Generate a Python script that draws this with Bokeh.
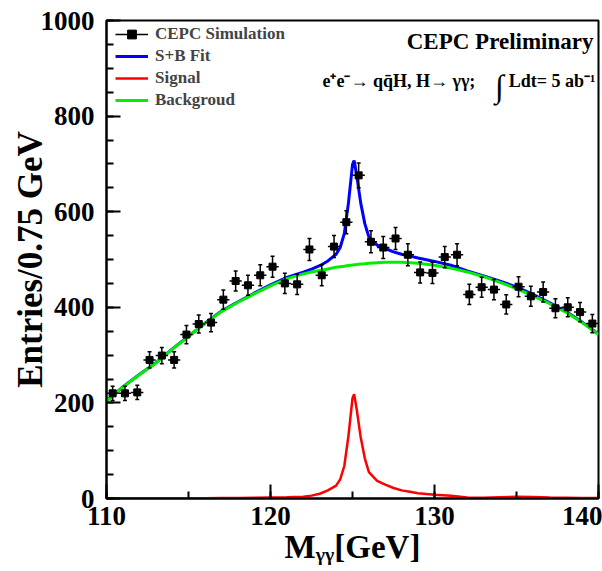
import math
from bokeh.plotting import figure
from bokeh.models import (Range1d, SingleIntervalTicker, Legend, LegendItem,
                          Label, ColumnDataSource)
from bokeh.embed import file_html
from bokeh.resources import INLINE

# ---------------- data ----------------
bin_width = 0.75
bin_centers = [110.375 + bin_width * i for i in range(40)]
counts = [220, 220, 222, 290, 299, 290, 343, 365, 368, 416,
          455, 446, 467, 485, 450, 448, 521, 467, 527, 578,
          676, 537, 525, 544, 510, 473, 472, 505, 510, 427,
          442, 437, 406, 443, 423, 432, 398, 400, 390, 366]
count_err = [15, 15, 15, 17, 17, 17, 19, 19, 19, 20,
             21, 21, 22, 22, 21, 21, 23, 22, 23, 24,
             26, 23, 23, 23, 23, 22, 22, 22, 23, 21,
             21, 21, 20, 21, 21, 21, 20, 20, 20, 19]

fit_x = [110, 111, 112, 113, 114, 115, 116, 117, 118, 119, 120, 121, 122,
         122.5, 123, 123.5, 124, 124.25, 124.5, 124.75, 125, 125.1, 125.25,
         125.5, 125.75, 126, 126.5, 127, 127.5, 128, 128.5, 129,
         130, 131, 132, 133, 134, 135, 136, 137, 138, 139, 140]
background = [204, 233, 259, 283, 312, 339, 366, 391, 410, 428, 445, 460, 470,
              474, 477, 480, 484, 485, 486, 487.5, 488.5, 489, 489.5,
              490.5, 491, 492, 493, 494, 494, 494, 493, 492,
              488, 482, 474, 464, 452, 439, 424, 408, 390, 368, 343]
signal = [0.5, 0.5, 0.5, 0.5, 0.5, 0.5, 0.5, 1, 1, 1.5, 2, 2.5, 3.5,
          6, 10, 17, 27, 40, 68, 130, 210, 218, 188,
          128, 84, 55, 37, 29, 22, 17, 14, 11,
          8, 6, 2, 1.5, 2.5, 3.5, 3, 2, 1.5, 1, 1]
sb_fit = [204.5, 233.5, 259.5, 283.5, 312.5, 339.5, 366.5, 392, 411, 429.5, 447, 462.5, 473.5,
          480, 487, 497, 511, 525, 554, 617.5, 698.5, 707, 677.5,
          618.5, 575, 547, 530, 523, 516, 511, 507, 503,
          496, 488, 476, 465.5, 454.5, 442.5, 427, 410, 391.5, 369, 344]

x_tick_interval = 10
y_tick_interval = 200

SERIF = "Liberation Serif"

# ---------------- figure ----------------
p = figure(width=602, height=571, x_range=Range1d(110, 140), y_range=Range1d(0, 1000),
           output_backend="svg", toolbar_location=None,
           min_border_left=106, min_border_right=4, min_border_top=20, min_border_bottom=73,
           background_fill_color="white", border_fill_color="white")
p.grid.visible = False
p.outline_line_color = "black"
p.outline_line_width = 2

p.xaxis.ticker = SingleIntervalTicker(interval=x_tick_interval, num_minor_ticks=2)
p.yaxis.ticker = SingleIntervalTicker(interval=y_tick_interval, num_minor_ticks=4)
for ax in p.axis:
    ax.major_tick_in = 14
    ax.major_tick_out = 0
    ax.minor_tick_in = 7
    ax.minor_tick_out = 0
    ax.axis_line_width = 2
    ax.axis_line_color = "black"
    ax.major_tick_line_width = 2
    ax.minor_tick_line_width = 2
    ax.major_tick_line_color = "black"
    ax.minor_tick_line_color = "black"
    ax.major_label_text_font = SERIF
    ax.major_label_text_font_style = "bold"
    ax.major_label_text_font_size = "27px"
    ax.major_label_text_color = "black"
    ax.axis_label_text_font = SERIF
    ax.axis_label_text_font_style = "bold"
    ax.axis_label_text_color = "black"
p.xaxis.major_label_standoff = 8
p.yaxis.major_label_standoff = 12

p.yaxis.axis_label = "Entries/0.75 GeV"
p.yaxis.axis_label_text_font_size = "35px"
p.yaxis.axis_label_standoff = -12
p.xaxis.axis_label = "M\u1d67\u1d67[GeV]"
p.xaxis.axis_label_text_font_size = "33px"
p.xaxis.axis_label_standoff = 1

# ---------------- curves ----------------
fit_src = ColumnDataSource(dict(x=fit_x, b=background, s=signal, sb=sb_fit))
sb_r = p.line("x", "sb", source=fit_src, line_color="#0000ff", line_width=3)
sig_r = p.line("x", "s", source=fit_src, line_color="#ff0000", line_width=2.5)
bkg_r = p.line("x", "b", source=fit_src, line_color="#00ee00", line_width=3)

# ---------------- data points ----------------
half = bin_width / 2
pts = ColumnDataSource(dict(
    x=bin_centers, y=counts,
    ylo=[c - e for c, e in zip(counts, count_err)],
    yhi=[c + e for c, e in zip(counts, count_err)],
    xlo=[x - half for x in bin_centers],
    xhi=[x + half for x in bin_centers],
))
vbar_r = p.segment("x", "ylo", "x", "yhi", source=pts, line_color="black", line_width=1.5)
hbar_r = p.segment("xlo", "y", "xhi", "y", source=pts, line_color="black", line_width=1.5)
p.scatter("x", "ylo", source=pts, marker="dash", size=4, line_color="black", line_width=1.5)
p.scatter("x", "yhi", source=pts, marker="dash", size=4, line_color="black", line_width=1.5)
pt_r = p.scatter("x", "y", source=pts, marker="square", size=7, color="black")

# ---------------- legend ----------------
legend = Legend(items=[
    LegendItem(label="CEPC Simulation", renderers=[hbar_r, pt_r]),
    LegendItem(label="S+B Fit", renderers=[sb_r]),
    LegendItem(label="Signal", renderers=[sig_r]),
    LegendItem(label="Backgroud", renderers=[bkg_r]),
], location=(9, 387), padding=0, spacing=0, margin=0,
    glyph_width=33, glyph_height=22, label_height=22, label_standoff=7,
    label_text_font=SERIF, label_text_font_style="bold", label_text_font_size="17px",
    border_line_alpha=0, background_fill_alpha=0)
p.add_layout(legend)

# ---------------- texts ----------------
def lab(x, y, text, size, align="left", style="bold"):
    p.add_layout(Label(x=x, y=y, x_units="screen", y_units="screen", text=text,
                       text_font=SERIF, text_font_style=style, text_font_size=size,
                       text_align=align, text_baseline="alphabetic",
                       text_color="black"))

lab(487, 457, "CEPC Preliminary", "23px", align="right")
lab(216, 418, "e\u207ae\u207b\u2192 qq\u0304H, H\u2192  \u03b3\u03b3;", "18px")
lab(393, 413, "\u222b", "32px", align="center", style="normal")
lab(489, 418, "Ldt= 5 ab\u207b\u00b9", "18px", align="right")

open("out.html", "w").write(file_html(p, INLINE))
